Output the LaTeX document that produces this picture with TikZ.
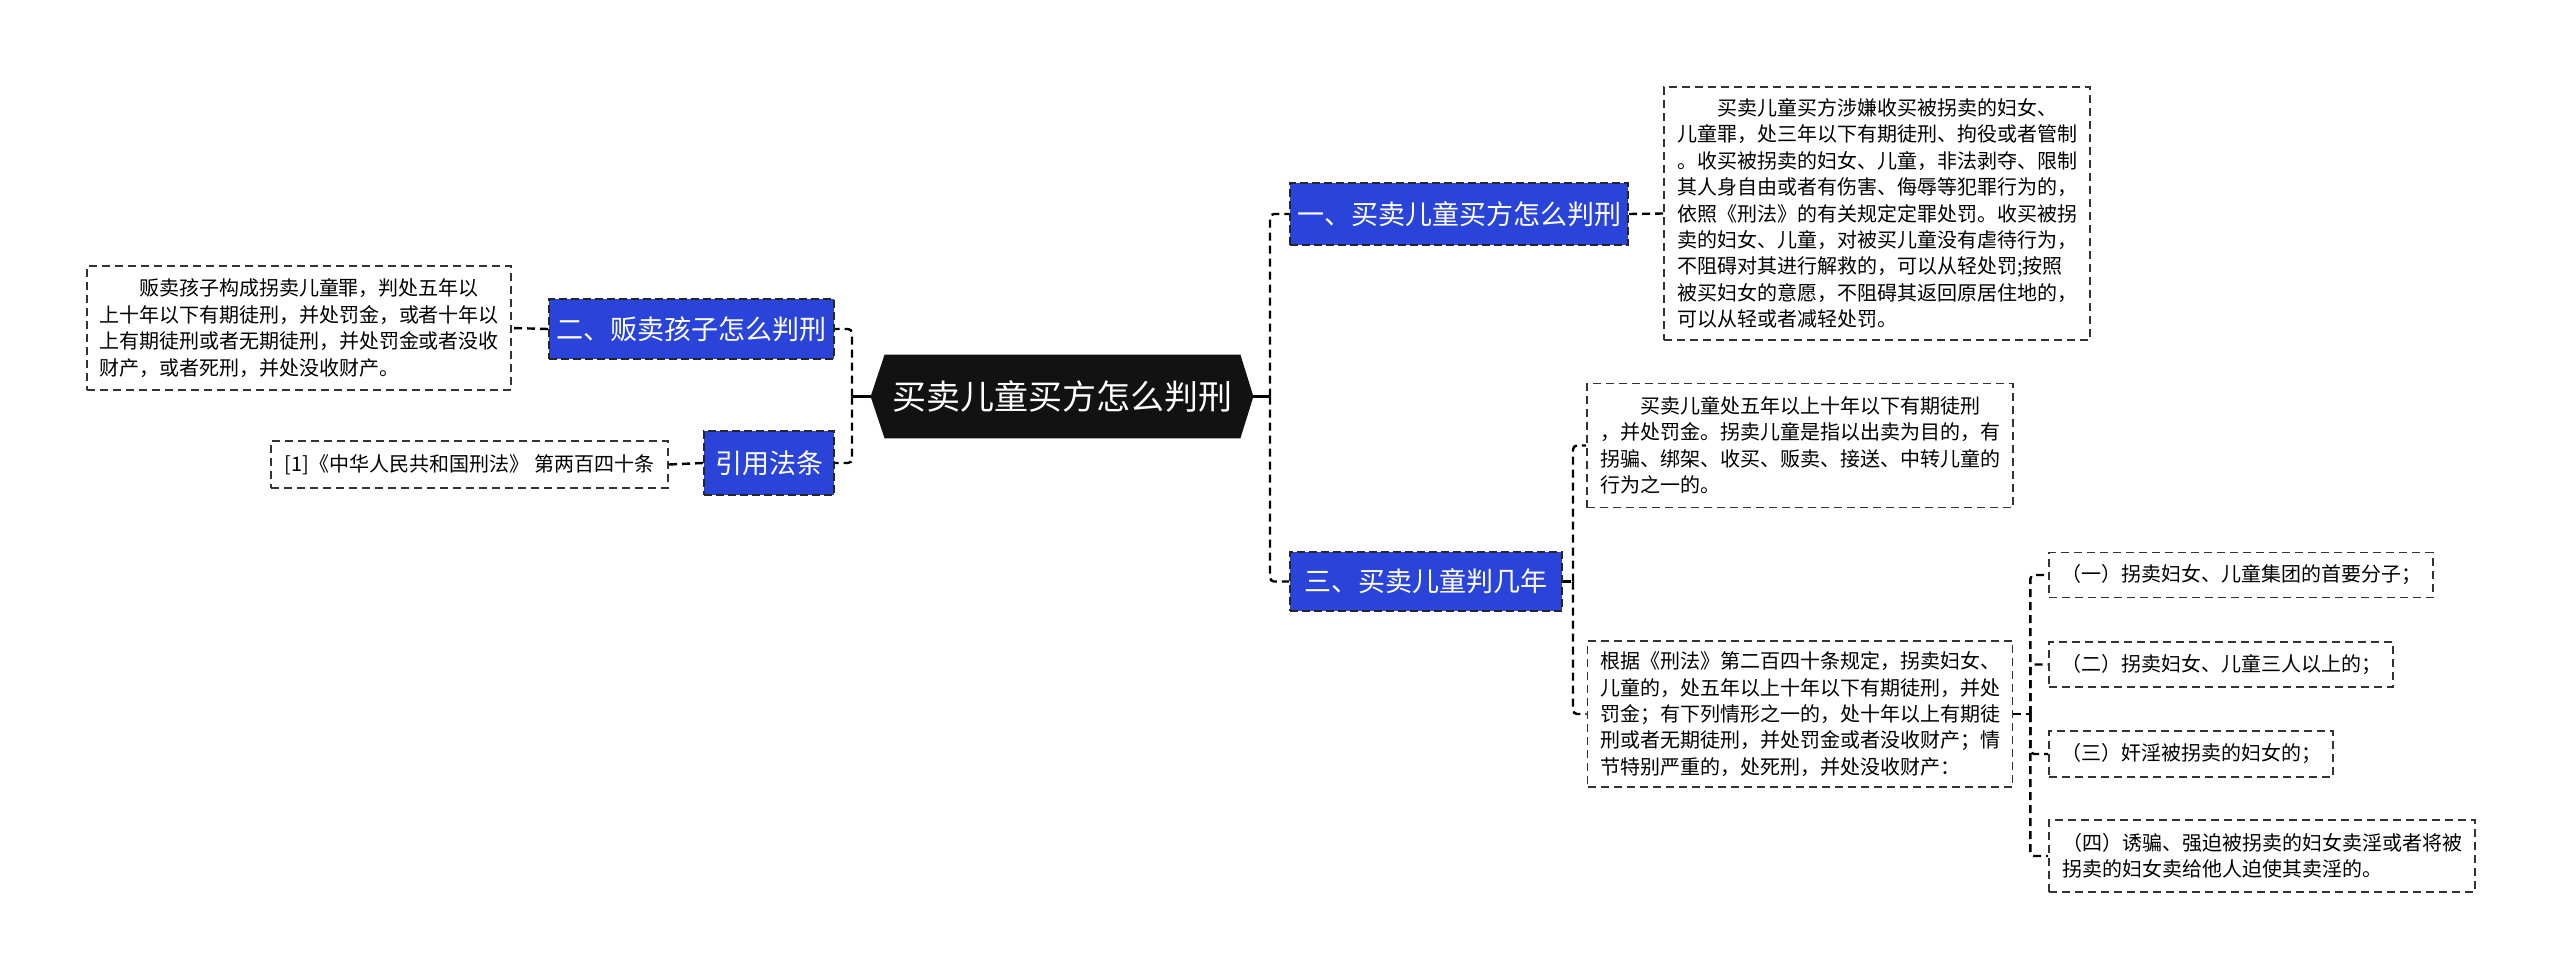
\documentclass[tikz,border=0pt]{standalone}
\usepackage{fontspec}
\setmainfont{Noto Sans CJK SC}
\usetikzlibrary{backgrounds}
\definecolor{nodeblue}{HTML}{2A43D9}
\begin{document}
\begin{tikzpicture}[x=0.5pt,y=-0.5pt,
  conn/.style={draw=black, line width=1.2pt, dash pattern=on 4pt off 2.5pt},
  txtbox/.style={draw=black!80, line width=0.8pt, dash pattern=on 4pt off 2.5pt, font=\fontsize{10}{13.2}\selectfont, align=left, inner sep=0pt},
  bluebox/.style={fill=nodeblue, draw=black!85, line width=1pt, dash pattern=on 4pt off 2pt, text=white, font=\fontsize{13.5}{16}\selectfont, inner sep=0pt}]
\begin{scope}[on background layer]
\fill[white] (0,0) rectangle (2560,979);
\end{scope}
\useasboundingbox (0,0) rectangle (2560,979);

% central node
\node[font=\fontsize{17}{20}\selectfont, text=white, minimum width=177.5pt, minimum height=41.5pt, inner sep=0pt] (C) at (1062.5,396.5) {买卖儿童买方怎么判刑};
\coordinate (CL) at ([xshift=-7pt]C.west);
\coordinate (CR) at ([xshift=6.5pt]C.east);
\begin{scope}[on background layer]
\fill[black!93] (C.north west) -- (CL) -- (C.south west) -- (C.south east) -- (CR) -- (C.north east) -- cycle;
\end{scope}

% blue nodes
\node[bluebox, minimum width=169pt, minimum height=31pt] (b1) at (1459,214) {一、买卖儿童买方怎么判刑};
\node[bluebox, minimum width=142.5pt, minimum height=30pt] (b2) at (691.5,329) {二、贩卖孩子怎么判刑};
\node[bluebox, minimum width=136pt, minimum height=29.5pt] (b3) at (1426,581.5) {三、买卖儿童判几年};
\node[bluebox, minimum width=65pt, minimum height=32pt] (b4) at (769,463) {引用法条};

% text boxes
\node[txtbox, minimum width=213pt, minimum height=126.5pt] (R1) at (1877,213.5) {\hspace*{2em}买卖儿童买方涉嫌收买被拐卖的妇女、\\儿童罪，处三年以下有期徒刑、拘役或者管制\\。收买被拐卖的妇女、儿童，非法剥夺、限制\\其人身自由或者有伤害、侮辱等犯罪行为的，\\依照《刑法》的有关规定定罪处罚。收买被拐\\卖的妇女、儿童，对被买儿童没有虐待行为，\\不阻碍对其进行解救的，可以从轻处罚;按照\\被买妇女的意愿，不阻碍其返回原居住地的，\\可以从轻或者减轻处罚。};

\node[txtbox, minimum width=212pt, minimum height=62pt] (L1) at (299,328) {\hspace*{2em}贩卖孩子构成拐卖儿童罪，判处五年以\\上十年以下有期徒刑，并处罚金，或者十年以\\上有期徒刑或者无期徒刑，并处罚金或者没收\\财产，或者死刑，并处没收财产。};

\node[txtbox, minimum width=198.5pt, minimum height=23.5pt] (ref) at (469.5,464.5) {[1]《中华人民共和国刑法》 第两百四十条};

\node[txtbox, minimum width=213pt, minimum height=62pt] (R2) at (1800,445.5) {\hspace*{2em}买卖儿童处五年以上十年以下有期徒刑\\，并处罚金。拐卖儿童是指以出卖为目的，有\\拐骗、绑架、收买、贩卖、接送、中转儿童的\\行为之一的。};

\node[txtbox, minimum width=212.5pt, minimum height=73pt] (R3) at (1800,714) {根据《刑法》第二百四十条规定，拐卖妇女、\\儿童的，处五年以上十年以下有期徒刑，并处\\罚金；有下列情形之一的，处十年以上有期徒\\刑或者无期徒刑，并处罚金或者没收财产；情\\节特别严重的，处死刑，并处没收财产：};

\node[txtbox, minimum width=192pt, minimum height=22.5pt] (S1) at (2241,575) {（一）拐卖妇女、儿童集团的首要分子；};
\node[txtbox, minimum width=172pt, minimum height=22.5pt] (S2) at (2221,664.5) {（二）拐卖妇女、儿童三人以上的；};
\node[txtbox, minimum width=142pt, minimum height=23pt] (S3) at (2191,754) {（三）奸淫被拐卖的妇女的；};
\node[txtbox, minimum width=213pt, minimum height=36pt] (S4) at (2262,856) {（四）诱骗、强迫被拐卖的妇女卖淫或者将被\\拐卖的妇女卖给他人迫使其卖淫的。};

% connectors
\coordinate (SR) at (1270,396.5);
\coordinate (SL) at (852,396.5);
\draw[line width=1.2pt] (CR) -- (SR);
\draw[line width=1.2pt] (CL) -- (SL);
\draw[conn, rounded corners=2pt] (SR) |- (b1.west);
\draw[conn, rounded corners=2pt] (SR) |- (b3.west);
\draw[conn, rounded corners=2pt] (SL) |- (b2.east);
\draw[conn, rounded corners=2pt] (SL) |- (b4.east);

\draw[conn] (b1.east) -- (R1.west);
\draw[conn] (b2.west) -- (L1.east);
\draw[conn] (b4.west) -- (ref.east);

\coordinate (B3R) at ([xshift=5pt]b3.east);
\draw[conn] (b3.east) -- (B3R);
\draw[conn, rounded corners=2pt] (B3R) |- (R2.west);
\draw[conn, rounded corners=2pt] (B3R) |- (R3.west);

\coordinate (R3R) at ([xshift=8.5pt]R3.east);
\draw[conn] (R3.east) -- (R3R);
\draw[conn, rounded corners=2pt] (R3R) |- (S1.west);
\draw[conn, rounded corners=2pt] (R3R) |- (S2.west);
\draw[conn, rounded corners=2pt] (R3R) |- (S3.west);
\draw[conn, rounded corners=2pt] (R3R) |- (S4.west);
\end{tikzpicture}
\end{document}
